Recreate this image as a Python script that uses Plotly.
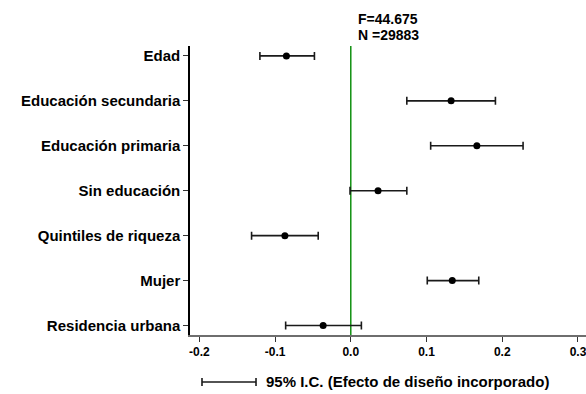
import plotly.graph_objects as go

# Coefficients with 95% confidence intervals (design effect incorporated)
variables = ["Edad", "Educación secundaria", "Educación primaria", "Sin educación",
             "Quintiles de riqueza", "Mujer", "Residencia urbana"]
estimates = [-0.085, 0.1325, 0.1665, 0.036, -0.087, 0.134, -0.0365]
ci_lower = [-0.120, 0.074, 0.1055, -0.001, -0.131, 0.101, -0.086]
ci_upper = [-0.048, 0.191, 0.2275, 0.074, -0.043, 0.169, 0.014]
x_ticks = [-0.2, -0.1, 0.0, 0.1, 0.2, 0.3]
x_tick_text = ["-0.2", "-0.1", "0.0", "0.1", "0.2", "0.3"]
stat_f = "F=44.675"
stat_n = "N =29883"
legend_label = "95% I.C. (Efecto de diseño incorporado)"

FONT = "Liberation Sans, Arial, sans-serif"
positions = list(range(len(variables)))
err_plus = [u - e for u, e in zip(ci_upper, estimates)]
err_minus = [e - l for e, l in zip(estimates, ci_lower)]

fig = go.Figure()
fig.add_trace(go.Scatter(
    x=estimates, y=positions, mode="markers",
    marker=dict(color="black", size=7),
    error_x=dict(type="data", symmetric=False, array=err_plus, arrayminus=err_minus,
                 color="#1a1a1a", thickness=1.6, width=4),
    showlegend=False, hoverinfo="x+y",
))

# reference line at zero
fig.add_shape(type="line", xref="x", yref="paper", x0=0, x1=0, y0=0, y1=1,
              line=dict(color="#119011", width=1.5), layer="below")

# legend key: horizontal interval with caps
ly = -0.1626
fig.add_shape(type="line", xref="paper", yref="paper", x0=0.0303, x1=0.1667, y0=ly, y1=ly,
              line=dict(color="#1a1a1a", width=1.6))
for xc in (0.0303, 0.1667):
    fig.add_shape(type="line", xref="paper", yref="paper", x0=xc, x1=xc,
                  y0=ly - 0.0138, y1=ly + 0.0138, line=dict(color="#1a1a1a", width=1.6))
fig.add_annotation(xref="paper", yref="paper", x=0.1869, y=ly, xanchor="left", yanchor="middle",
                   text=legend_label, showarrow=False,
                   font=dict(family=FONT, size=15, color="black", weight="bold"))

# model statistics above the panel
fig.add_annotation(xref="paper", yref="paper", x=0.5, y=1.095, xanchor="center", yanchor="middle",
                   text=stat_f, showarrow=False, borderpad=0,
                   font=dict(family=FONT, size=14, color="black", weight="bold"))
fig.add_annotation(xref="paper", yref="paper", x=0.5, y=1.038, xanchor="center", yanchor="middle",
                   text=stat_n, showarrow=False, borderpad=0,
                   font=dict(family=FONT, size=14, color="black", weight="bold"))

fig.update_layout(
    width=586, height=394,
    margin=dict(l=190, r=0, t=46, b=59),
    paper_bgcolor="white", plot_bgcolor="white",
    font=dict(family=FONT, color="black"),
    xaxis=dict(range=[-0.2123, 0.3106], tickvals=x_ticks, ticktext=x_tick_text,
               showgrid=False, zeroline=False, showline=True, linecolor="#6e6e6e", linewidth=1.5,
               ticks="outside", ticklen=5, tickwidth=1.2, tickcolor="#333333",
               ticklabeloverflow="allow",
               tickfont=dict(family=FONT, size=12, color="black", weight="bold")),
    yaxis=dict(range=[6.21, -0.22], tickvals=positions, ticktext=variables,
               showgrid=False, zeroline=False, showline=True, linecolor="black", linewidth=1.5,
               ticks="outside", ticklen=5, tickwidth=1.2, tickcolor="#333333",
               tickfont=dict(family=FONT, size=15, color="black", weight="bold")),
)

fig.write_html("out.html")
